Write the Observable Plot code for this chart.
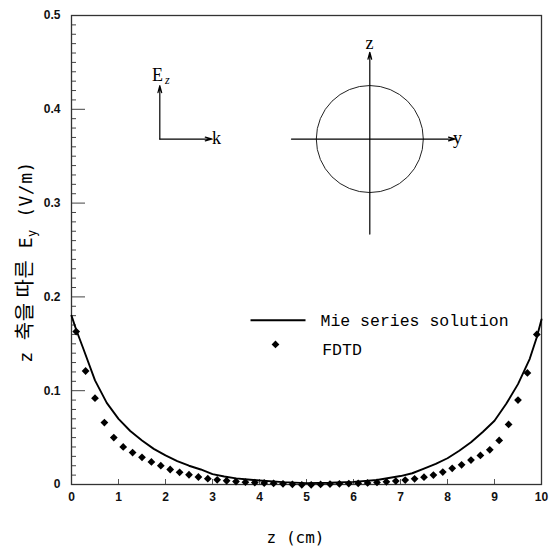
<!DOCTYPE html>
<html><head><meta charset="utf-8">
<script src="https://cdn.jsdelivr.net/npm/d3@7"></script>
<script src="https://cdn.jsdelivr.net/npm/@observablehq/plot@0.6"></script>
<style>body{margin:0;background:#fff}</style>
</head><body><div id="chart"></div>
<script>
// ---- data ----
const mieZ  = [0, 0.1, 0.25, 0.5, 0.75, 1.0, 1.25, 1.5, 1.75, 2.0, 2.25, 2.5, 2.75, 3.0, 3.25, 3.5, 3.75, 4.0, 4.5, 5.0, 5.5, 6.0, 6.5, 7.0, 7.25, 7.5, 7.75, 8.0, 8.25, 8.5, 8.75, 9.0, 9.25, 9.5, 9.75, 9.9, 10];
const mieEy = [0.180, 0.165, 0.145, 0.111, 0.087, 0.070, 0.057, 0.047, 0.038, 0.031, 0.025, 0.020, 0.016, 0.011, 0.0085, 0.0065, 0.0053, 0.0043, 0.0025, 0.0015, 0.0018, 0.0028, 0.0048, 0.0090, 0.012, 0.017, 0.022, 0.028, 0.036, 0.045, 0.056, 0.068, 0.086, 0.107, 0.134, 0.157, 0.176];

const fdtdZ  = [0.1, 0.3, 0.5, 0.7, 0.9, 1.1, 1.3, 1.5, 1.7, 1.9, 2.1, 2.3, 2.5, 2.7, 2.9, 3.1, 3.3, 3.5, 3.7, 3.9, 4.1, 4.3, 4.5, 4.7, 4.9, 5.1, 5.3, 5.5, 5.7, 5.9, 6.1, 6.3, 6.5, 6.7, 6.9, 7.1, 7.3, 7.5, 7.7, 7.9, 8.1, 8.3, 8.5, 8.7, 8.9, 9.1, 9.3, 9.5, 9.7, 9.9];
const fdtdEy = [0.163, 0.121, 0.092, 0.066, 0.050, 0.040, 0.034, 0.029, 0.024, 0.020, 0.016, 0.013, 0.0104, 0.008, 0.0062, 0.005, 0.004, 0.0032, 0.0025, 0.002, 0.0016, 0.0012, 0.0007, 0.0002, -0.0003, -0.0003, 0.0001, 0.0004, 0.0007, 0.001, 0.0013, 0.0017, 0.0022, 0.0029, 0.0037, 0.0047, 0.006, 0.0078, 0.0100, 0.0132, 0.0172, 0.021, 0.026, 0.031, 0.037, 0.047, 0.064, 0.090, 0.119, 0.160];

const xTicks = [0, 1, 2, 3, 4, 5, 6, 7, 8, 9, 10];
const yTicks = [0, 0.1, 0.2, 0.3, 0.4, 0.5];
const yMinorTicks = [0.01,0.02,0.03,0.04,0.05,0.06,0.07,0.08,0.09,0.11,0.12,0.13,0.14,0.15,0.16,0.17,0.18,0.19,0.21,0.22,0.23,0.24,0.25,0.26,0.27,0.28,0.29,0.31,0.32,0.33,0.34,0.35,0.36,0.37,0.38,0.39,0.41,0.42,0.43,0.44,0.45,0.46,0.47,0.48,0.49];

const seriesNames = ["Mie series solution", "FDTD"];
const xLabel = "z (cm)";

// inset diagram (in data units of the chart)
const insetArrows = [
  {x1: 1.879, y1: 0.3683, x2: 1.879, y2: 0.4252},
  {x1: 1.879, y1: 0.3683, x2: 2.994, y2: 0.3683},
  {x1: 4.68,  y1: 0.3683, x2: 8.17,  y2: 0.3683},
  {x1: 6.347, y1: 0.267,  x2: 6.347, y2: 0.4608}
];
const insetCircle = [{x: 6.347, y: 0.3683}];
const insetLabels = [
  {x: 3.085, y: 0.3632, text: "k", anchor: "start"},
  {x: 8.213, y: 0.3632, text: "y", anchor: "start"},
  {x: 6.34,  y: 0.4647, text: "z", anchor: "middle"},
  {x: 1.830, y: 0.4306, text: "E", anchor: "start"}
];
const insetSub = [{x: 1.99, y: 0.4268, text: "z"}];

// legend positions (data units)
const legendLine = [{x1: 3.809, x2: 4.979, y: 0.1752}];
const legendDot = [{x: 4.340, y: 0.1493}];
const legendText = [{x: 5.298, y: 0.1688, text: seriesNames[0]}, {x: 5.334, y: 0.1378, text: seriesNames[1]}];

const mie = mieZ.map((z, i) => ({z, ey: mieEy[i]}));
const fdtd = fdtdZ.map((z, i) => ({z, ey: fdtdEy[i]}));

const W = 549, H = 547, mL = 71, mR = 8, mT = 15, mB = 63;
const fw = W - mL - mR, fh = H - mT - mB;

const plot = Plot.plot({
  width: W, height: H,
  marginLeft: mL, marginRight: mR, marginTop: mT, marginBottom: mB,
  x: {domain: [0, 10]},
  y: {domain: [0, 0.5]},
  style: {fontFamily: "Liberation Sans, Arial, sans-serif", fontSize: "12px", background: "#fff", color: "#111"},
  marks: [
    // inward ticks on the left axis (minor every 0.01, major every 0.1)
    Plot.tickY(yMinorTicks, {y: d => d, insetRight: fw - 5, stroke: "#444", strokeWidth: 1}),
    Plot.tickY(yTicks, {y: d => d, insetRight: fw - 14, stroke: "#444", strokeWidth: 1}),
    // inward ticks on the bottom axis
    Plot.tickX(xTicks, {x: d => d, insetTop: fh - 5, stroke: "#555", strokeWidth: 1}),
    Plot.axisY({ticks: yTicks, tickSize: 0, tickPadding: 11, label: null, fontWeight: "bold", fontSize: 12,
      tickFormat: d => d === 0 ? "0" : d.toFixed(1)}),
    Plot.axisX({ticks: xTicks, tickSize: 0, tickPadding: 8, label: null, fontWeight: "bold", fontSize: 12,
      tickFormat: d => String(d)}),
    Plot.frame({stroke: "#333", strokeWidth: 1.3}),
    // data
    Plot.line(mie, {x: "z", y: "ey", stroke: "#000", strokeWidth: 1.9}),
    Plot.dot(fdtd, {x: "z", y: "ey", symbol: "diamond2", r: 3.5, fill: "#000", stroke: "none"}),
    // legend
    Plot.link(legendLine, {x1: "x1", x2: "x2", y1: "y", y2: "y", stroke: "#000", strokeWidth: 2}),
    Plot.dot(legendDot, {x: "x", y: "y", symbol: "diamond2", r: 3.5, fill: "#000", stroke: "none"}),
    Plot.text(legendText, {x: "x", y: "y", text: "text", textAnchor: "start", lineAnchor: "bottom",
      fontFamily: "Liberation Mono, monospace", fontSize: 16.5, fill: "#000"}),
    // inset diagram
    Plot.dot(insetCircle, {x: "x", y: "y", r: 53.5, stroke: "#222", fill: "none", strokeWidth: 1}),
    Plot.arrow(insetArrows, {x1: "x1", y1: "y1", x2: "x2", y2: "y2", stroke: "#000", strokeWidth: 1.2, headLength: 9, headAngle: 30}),
    Plot.text(insetLabels, {x: "x", y: "y", text: "text", textAnchor: d => d.anchor, lineAnchor: "bottom",
      fontFamily: "Liberation Serif, Times New Roman, serif", fontSize: 18, fill: "#000"}),
    Plot.text(insetSub, {x: "x", y: "y", text: "text", textAnchor: "start", lineAnchor: "bottom",
      fontFamily: "Liberation Serif, serif", fontStyle: "italic", fontSize: 12, fill: "#000"}),
    // x axis label
    Plot.text([xLabel], {frameAnchor: "bottom", text: d => d, dy: 58, dx: -11, lineAnchor: "bottom",
      fontFamily: "DejaVu Sans Mono, monospace", fontSize: 16, fill: "#000"})
  ]
});

// y axis label with subscript
const svg = d3.select(plot);
const yl = svg.append("text")
  .attr("transform", "translate(32,262) rotate(-90)")
  .attr("text-anchor", "middle")
  .attr("font-family", "DejaVu Sans Mono, Noto Sans CJK KR, monospace")
  .attr("font-size", 18)
  .attr("letter-spacing", 0.5)
  .attr("fill", "#000");
yl.append("tspan").text("z ");
yl.append("tspan").attr("font-size", 20).attr("font-family", "Noto Sans CJK KR").text("축을 따른");
yl.append("tspan").text(" E");
yl.append("tspan").attr("font-size", 12).attr("dy", 4).text("y");
yl.append("tspan").attr("dy", -4).text(" (V/m)");

document.getElementById("chart").appendChild(plot);
</script>
</body></html>
